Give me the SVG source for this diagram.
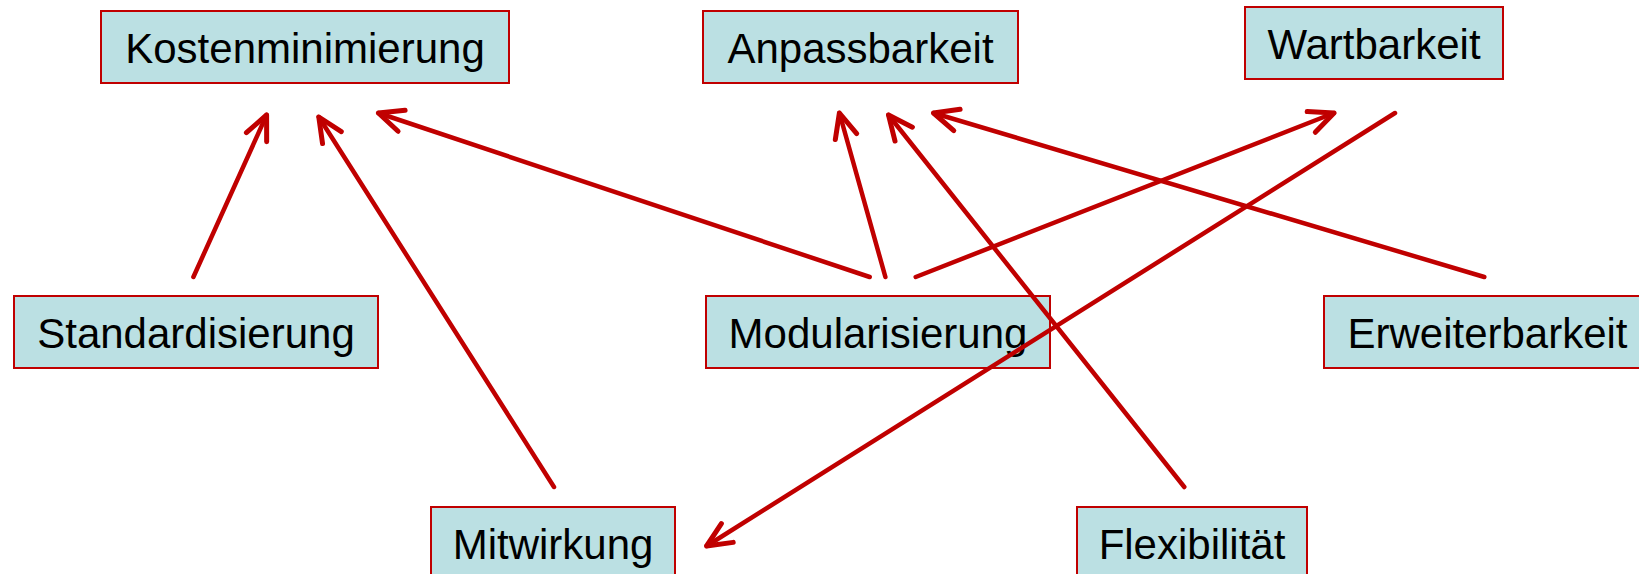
<svg xmlns="http://www.w3.org/2000/svg" width="1639" height="574" viewBox="0 0 1639 574">
<style>
.box{fill:#BBE0E3;stroke:#C00000;stroke-width:2}
.lbl{font-family:"Liberation Sans",Arial,sans-serif;font-size:42px;fill:#000;text-anchor:middle}
.edge{stroke:#C00000;stroke-width:4.5;fill:none;stroke-linecap:round;marker-end:url(#ah)}
</style>
<defs>
<marker id="ah" markerUnits="userSpaceOnUse" orient="auto" markerWidth="40" markerHeight="40" refX="0" refY="0" viewBox="-30 -15 36 30" overflow="visible">
<path d="M -22 -10 L 0 0 L -22 10" fill="none" stroke="#C00000" stroke-width="4.5" stroke-linecap="round" stroke-linejoin="round"/>
</marker>
</defs>
<rect width="1639" height="574" fill="#fff"/>
<g id="kostenminimierung"><rect class="box" x="101" y="11" width="408" height="72"/><text class="lbl" x="305" y="63">Kostenminimierung</text></g>
<g id="anpassbarkeit"><rect class="box" x="703" y="11" width="315" height="72"/><text class="lbl" x="860.5" y="63">Anpassbarkeit</text></g>
<g id="wartbarkeit"><rect class="box" x="1245" y="7" width="258" height="72"/><text class="lbl" x="1374" y="59">Wartbarkeit</text></g>
<g id="standardisierung"><rect class="box" x="14" y="296" width="364" height="72"/><text class="lbl" x="196" y="348">Standardisierung</text></g>
<g id="modularisierung"><rect class="box" x="706" y="296" width="344" height="72"/><text class="lbl" x="878" y="348">Modularisierung</text></g>
<g id="erweiterbarkeit"><rect class="box" x="1324" y="296" width="327" height="72"/><text class="lbl" x="1487.5" y="348">Erweiterbarkeit</text></g>
<g id="mitwirkung"><rect class="box" x="431" y="507" width="244" height="72"/><text class="lbl" x="553" y="559">Mitwirkung</text></g>
<g id="flexibilitaet"><rect class="box" x="1077" y="507" width="230" height="72"/><text class="lbl" x="1192" y="559">Flexibilität</text></g>
<g id="connectors">
<line class="edge" x1="193.4" y1="277" x2="266.6" y2="115"/>
<line class="edge" x1="554" y1="487" x2="318.8" y2="117"/>
<line class="edge" x1="869.7" y1="277" x2="378.4" y2="113"/>
<line class="edge" x1="885.4" y1="277" x2="839.4" y2="113"/>
<line class="edge" x1="915.7" y1="277" x2="1334" y2="113"/>
<line class="edge" x1="1184.3" y1="487" x2="888.5" y2="115"/>
<line class="edge" x1="1484.3" y1="277" x2="933.5" y2="113"/>
<line class="edge" x1="1395" y1="113" x2="706.6" y2="546"/>
</g>
</svg>
